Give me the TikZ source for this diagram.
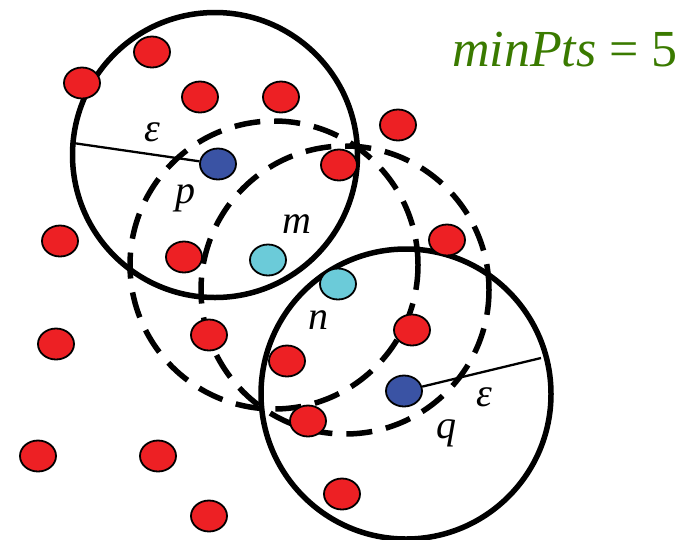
\documentclass[tikz,border=0pt]{standalone}
\usepackage{fontspec}
\setmainfont{Liberation Serif}
\usetikzlibrary{shapes.geometric}
\definecolor{dotred}{RGB}{237,32,36}
\definecolor{dotblue}{RGB}{58,83,164}
\definecolor{dotcyan}{RGB}{107,203,217}
\definecolor{txtgreen}{RGB}{58,122,0}
\tikzset{
  pt/.style={ellipse, draw=black, line width=1.8pt, minimum width=36pt, minimum height=31pt, inner sep=0pt},
  redpt/.style={pt, fill=dotred},
  bluept/.style={pt, fill=dotblue},
  cyanpt/.style={pt, fill=dotcyan},
  epscircle/.style={line width=5.5pt},
  dashcircle/.style={line width=5.5pt, dash pattern=on 26pt off 14pt},
  radline/.style={line width=2.3pt},
  lbl/.style={font=\fontsize{40}{40}\selectfont\itshape, anchor=base, inner sep=0pt},
}
\begin{document}
\begin{tikzpicture}[x=1pt,y=-1pt]
\useasboundingbox (0,0) rectangle (698,539);
% circles
\draw[epscircle] (215,155) circle[radius=142.5pt];
\draw[epscircle] (406,394) circle[radius=145pt];
\draw[dashcircle] (274,265) circle[radius=144pt];
\draw[dashcircle] (345,290) circle[radius=144pt];
% points
\node[redpt] (r1) at (152,52) {};
\node[redpt] (r2) at (82,83) {};
\node[redpt] (r3) at (200,97) {};
\node[redpt] (r4) at (281,97) {};
\node[redpt] (r5) at (398,125) {};
\node[redpt] (r6) at (339,165) {};
\node[redpt] (r7) at (60,241) {};
\node[redpt] (r8) at (184,257) {};
\node[redpt] (r9) at (447,240) {};
\node[redpt] (r10) at (56,344) {};
\node[redpt] (r11) at (209,335) {};
\node[redpt] (r12) at (412,330) {};
\node[redpt] (r13) at (287,361) {};
\node[redpt] (r14) at (308,421) {};
\node[redpt] (r15) at (38,456) {};
\node[redpt] (r16) at (158,456) {};
\node[redpt] (r17) at (342,494) {};
\node[redpt] (r18) at (209,516) {};
\node[bluept] (p) at (218,164) {};
\node[bluept] (q) at (404,391) {};
\node[cyanpt] (m) at (268,260) {};
\node[cyanpt] (n) at (338,284) {};
% radius lines
\coordinate (e1) at (73,143);
\coordinate (e2) at (541,358);
\draw[radline] (p) -- (e1);
\draw[radline] (q) -- (e2);
% labels
\node[lbl] (leps1) at (152,141) {ε};
\node[lbl] (lp) at (185,203) {p};
\node[lbl] (lm) at (297,233) {m};
\node[lbl] (ln) at (318,329) {n};
\node[lbl] (leps2) at (484,406) {ε};
\node[lbl] (lq) at (446,438) {q};
\node[font=\fontsize{52}{52}\selectfont, text=txtgreen, anchor=base west, inner sep=0pt] (minpts) at (452,66) {\textit{minPts} = 5};
\end{tikzpicture}
\end{document}
